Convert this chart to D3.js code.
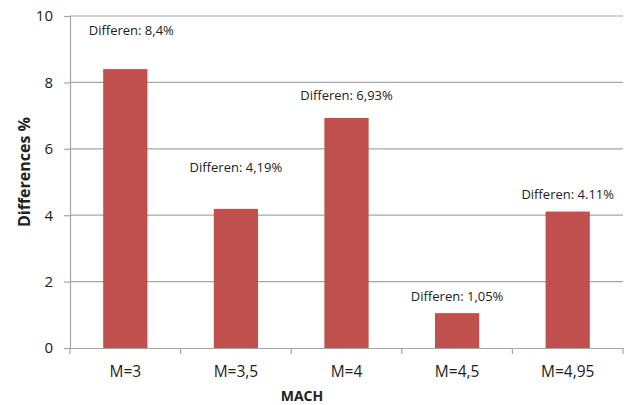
<!DOCTYPE html>
<html><head><meta charset="utf-8">
<script src="https://cdn.jsdelivr.net/npm/d3@7"></script>
<style>body{margin:0;background:#fff}svg{display:block}</style>
</head><body>
<script>
const categories = ["M=3","M=3,5","M=4","M=4,5","M=4,95"];
const values = [8.4, 4.19, 6.93, 1.05, 4.11];
const labels = ["Differen: 8,4%","Differen: 4,19%","Differen: 6,93%","Differen: 1,05%","Differen: 4.11%"];
const labelAt = [9.55, 5.45, 7.62, 1.54, 4.64];
const yTicks = [0,2,4,6,8,10];

const W=624,H=405;
const svg=d3.select("body").append("svg").attr("width",W).attr("height",H);
const x=d3.scaleBand().domain(categories).range([70,623]).paddingInner(0.6).paddingOuter(0.3);
const xb=d3.scaleBand().domain(categories).range([70,623]);
const y=d3.scaleLinear().domain([0,10]).range([348,16]);
const font="'Open Sans', 'Liberation Sans', sans-serif";

// gridlines
svg.append("g").selectAll("line").data(yTicks.filter(d=>d>0)).join("line")
  .attr("x1",70).attr("x2",623).attr("y1",d=>y(d)).attr("y2",d=>y(d))
  .attr("stroke","#a6a6a6").attr("stroke-width",1.2);

// y axis
const ya=svg.append("g").attr("transform","translate(70,0)")
  .call(d3.axisLeft(y).tickValues(yTicks).tickSize(6).tickPadding(11));
ya.select(".domain").attr("stroke","#a6a6a6").attr("stroke-width",1.2);
ya.selectAll(".tick line").attr("stroke","#a6a6a6").attr("stroke-width",1.2);
ya.selectAll(".tick text").attr("font-family",font).attr("font-size",15).attr("fill","#222");

// bars
svg.append("g").selectAll("rect").data(values).join("rect")
  .attr("x",(d,i)=>x(categories[i])).attr("width",x.bandwidth())
  .attr("y",d=>y(d)).attr("height",d=>y(0)-y(d))
  .attr("fill","#C0504D");

// x axis
const xa=svg.append("g").attr("transform","translate(0,348)")
  .call(d3.axisBottom(xb).tickSize(0).tickPadding(18));
xa.select(".domain").attr("stroke","#a6a6a6").attr("stroke-width",1.2);
xa.selectAll(".tick text").attr("font-family",font).attr("font-size",15.5).attr("fill","#222");
svg.append("g").selectAll("line").data(d3.range(categories.length+1)).join("line")
  .attr("x1",i=>70+i*xb.step()).attr("x2",i=>70+i*xb.step())
  .attr("y1",348).attr("y2",354).attr("stroke","#a6a6a6").attr("stroke-width",1.2);

// data labels
svg.append("g").selectAll("text").data(labels).join("text")
  .attr("x",(d,i)=>xb(categories[i])+xb.bandwidth()/2+(i===0?6:0))
  .attr("y",(d,i)=>y(labelAt[i])).attr("dy","0.35em")
  .attr("text-anchor","middle").attr("font-family",font).attr("font-size",13)
  .attr("fill","#222").text(d=>d);

// axis titles
svg.append("text").attr("transform","translate(24,172) rotate(-90)")
  .attr("text-anchor","middle").attr("dy","0.35em").attr("font-family",font).attr("font-weight","bold")
  .attr("font-size",16).attr("fill","#222").text("Differences %");
svg.append("text").attr("x",302).attr("y",396).attr("dy","0.35em").attr("text-anchor","middle")
  .attr("font-family",font).attr("font-weight","bold").attr("font-size",14)
  .attr("fill","#222").text("MACH");
</script>
</body></html>
